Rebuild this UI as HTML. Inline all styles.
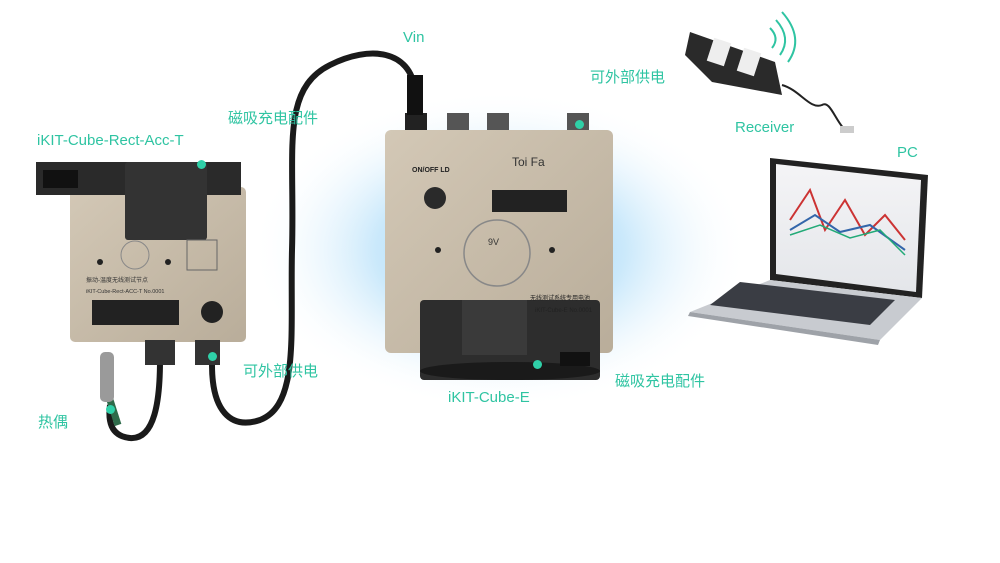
<!DOCTYPE html>
<html><head><meta charset="utf-8"><style>
body{margin:0;width:1000px;height:563px;background:#fff;position:relative;overflow:hidden;font-family:"Liberation Sans","Noto Sans CJK SC",sans-serif}
.l{position:absolute;color:#2fc4a2;font-size:15px;white-space:nowrap}
.d{position:absolute;width:9px;height:9px;border-radius:50%;background:#2fd0a8}
</style></head><body>
<svg width="1000" height="563" style="position:absolute;left:0;top:0">
<defs>
<radialGradient id="g" cx="50%" cy="50%" r="50%"><stop offset="0" stop-color="#8fd0f5"/><stop offset="0.5" stop-color="#cbe9fb"/><stop offset="1" stop-color="#fff" stop-opacity="0"/></radialGradient>
<linearGradient id="bg" x1="0" y1="0" x2="1" y2="1"><stop offset="0" stop-color="#d3c8b6"/><stop offset="1" stop-color="#b9ad9a"/></linearGradient>
<linearGradient id="scr" x1="0" y1="0" x2="0" y2="1"><stop offset="0" stop-color="#f4f4f6"/><stop offset="1" stop-color="#e4e6ea"/></linearGradient>
</defs>
<ellipse cx="500" cy="250" rx="250" ry="160" fill="url(#g)"/>
<!-- cable -->
<path d="M212 365 C212 410 230 430 260 420 C300 405 290 330 292 250 C295 150 280 90 330 65 C370 45 410 50 415 90" stroke="#1a1a1a" stroke-width="6" fill="none"/>
<path d="M160 360 C160 400 155 440 130 438 C110 436 108 420 110 405" stroke="#1a1a1a" stroke-width="6" fill="none"/>
<path d="M110 400 L118 425" stroke="#2e6b4a" stroke-width="7"/>
<rect x="100" y="352" width="14" height="50" rx="5" fill="#9a9a9a"/>
<!-- left device -->
<rect x="70" y="187" width="176" height="155" rx="5" fill="url(#bg)"/>
<rect x="36" y="162" width="205" height="33" fill="#2a2a2a"/>
<rect x="43" y="170" width="35" height="18" fill="#111"/>
<rect x="125" y="162" width="82" height="78" rx="3" fill="#333"/>
<circle cx="135" cy="255" r="14" fill="none" stroke="#888"/>
<rect x="187" y="240" width="30" height="30" fill="none" stroke="#666"/>
<circle cx="100" cy="262" r="3" fill="#222"/><circle cx="168" cy="262" r="3" fill="#222"/>
<rect x="92" y="300" width="87" height="25" fill="#222"/>
<circle cx="212" cy="312" r="11" fill="#222"/>
<text x="86" y="282" font-size="6" fill="#333">振动-温度无线测试节点</text>
<text x="86" y="293" font-size="5.5" fill="#333">iKIT-Cube-Rect-ACC-T No.0001</text>
<rect x="145" y="340" width="30" height="25" fill="#333"/><rect x="195" y="340" width="25" height="25" fill="#333"/>
<!-- center device -->
<rect x="405" y="113" width="22" height="25" fill="#222"/><rect x="447" y="113" width="22" height="25" fill="#555"/><rect x="487" y="113" width="22" height="25" fill="#555"/><rect x="567" y="113" width="22" height="25" fill="#555"/>
<rect x="407" y="75" width="16" height="40" fill="#111"/>
<rect x="385" y="130" width="228" height="223" rx="6" fill="url(#bg)"/>
<circle cx="435" cy="198" r="11" fill="#2a2a2a"/>
<rect x="492" y="190" width="75" height="22" fill="#222"/>
<circle cx="497" cy="253" r="33" fill="none" stroke="#888" stroke-width="1.5"/>
<text x="488" y="245" font-size="9" fill="#333">9V</text>
<circle cx="438" cy="250" r="3" fill="#222"/><circle cx="552" cy="250" r="3" fill="#222"/>
<text x="412" y="172" font-size="7" font-weight="bold" fill="#222">ON/OFF LD</text>
<text x="512" y="166" font-size="12" fill="#333">Toi Fa</text>
<rect x="420" y="300" width="180" height="80" rx="4" fill="#2d2d2d"/>
<ellipse cx="510" cy="371" rx="90" ry="9" fill="#1a1a1a"/>
<rect x="462" y="300" width="65" height="55" fill="#3a3a3a"/>
<text x="530" y="300" font-size="6" fill="#222">无线测试系统专用电池</text>
<text x="535" y="312" font-size="6" fill="#222">iKIT-Cube-E No.0001</text>
<rect x="560" y="352" width="30" height="14" fill="#111"/>
<!-- receiver -->
<path d="M690 32 L775 62 L782 95 L712 82 L685 55 Z" fill="#2a2a2a"/>
<rect x="710" y="40" width="18" height="24" fill="#eee" transform="rotate(18 719 52)"/>
<rect x="740" y="50" width="18" height="24" fill="#eee" transform="rotate(18 749 62)"/>
<path d="M782 85 C800 90 810 110 822 105 C830 100 835 120 845 130" stroke="#222" stroke-width="2" fill="none"/>
<rect x="840" y="126" width="14" height="7" fill="#ccc"/>
<path d="M770 28 Q780 38 772 48 M776 20 Q792 38 780 55 M782 12 Q805 38 788 62" stroke="#2fc4a2" stroke-width="2" fill="none"/>
<!-- laptop -->
<path d="M770 158 L928 175 L922 298 L770 280 Z" fill="#222"/>
<path d="M776 164 L921 180 L916 292 L776 274 Z" fill="url(#scr)"/>
<path d="M790 220 L810 190 L825 230 L845 200 L865 235 L885 215 L905 240" stroke="#c33" stroke-width="2" fill="none"/>
<path d="M790 230 L815 215 L840 232 L870 225 L905 250" stroke="#36a" stroke-width="2" fill="none"/>
<path d="M790 235 L820 225 L850 238 L880 230 L905 255" stroke="#2a7" stroke-width="1.5" fill="none"/>
<path d="M770 280 L922 298 L880 340 L690 312 Z" fill="#c8cbd0"/>
<path d="M740 282 L895 300 L870 325 L710 305 Z" fill="#3a3d44"/>
<path d="M690 312 L880 340 L878 345 L688 316 Z" fill="#9ea2a8"/>
</svg>
<div class="d" style="left:197px;top:160px"></div>
<div class="d" style="left:208px;top:352px"></div>
<div class="d" style="left:106px;top:405px"></div>
<div class="d" style="left:575px;top:120px"></div>
<div class="d" style="left:533px;top:360px"></div>
<div class="l" style="left:403px;top:29px">Vin</div>
<div class="l" style="left:228px;top:107px">磁吸充电配件</div>
<div class="l" style="left:37px;top:132px">iKIT-Cube-Rect-Acc-T</div>
<div class="l" style="left:590px;top:66px">可外部供电</div>
<div class="l" style="left:735px;top:119px">Receiver</div>
<div class="l" style="left:897px;top:144px">PC</div>
<div class="l" style="left:243px;top:360px">可外部供电</div>
<div class="l" style="left:38px;top:411px">热偶</div>
<div class="l" style="left:448px;top:389px">iKIT-Cube-E</div>
<div class="l" style="left:615px;top:370px">磁吸充电配件</div>
</body></html>
